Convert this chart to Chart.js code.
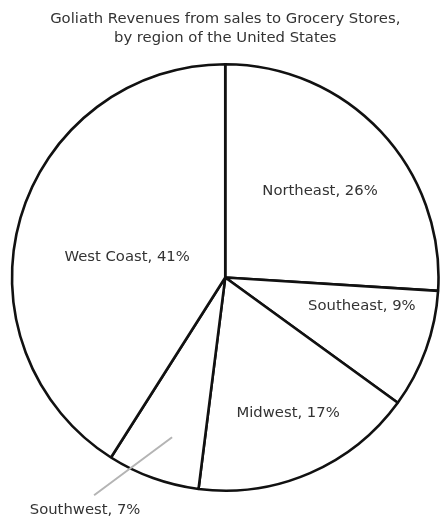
<!DOCTYPE html>
<html>
<head>
<meta charset="utf-8">
<script src="https://cdn.jsdelivr.net/npm/chart.js@4.4.1/dist/chart.umd.min.js"></script>
<style>
  html, body { margin: 0; padding: 0; background: #fff; }
  #wrap { width: 440px; height: 522px; }
</style>
</head>
<body>
<div id="wrap"><canvas id="pieChart" width="440" height="522"></canvas></div>
<script>
const regions = ['Northeast', 'Southeast', 'Midwest', 'Southwest', 'West Coast'];
const shares = [26, 9, 17, 7, 41];
const titleLines = ['Goliath Revenues from sales to Grocery Stores,', 'by region of the United States'];

// where each label sits: fraction of radius, angle tweak in degrees
const labelPlace = [
  { f: 0.60, da: 1 },
  { f: 0.655, da: -7.8 },
  { f: 0.70, da: -1.5 },
  { f: 0.79, da: -1.4, leader: true },
  { f: 0.47, da: -4.5 }
];

const fontFamily = '"DejaVu Sans", Verdana, sans-serif';

const sliceLabels = {
  id: 'sliceLabels',
  afterDatasetsDraw(chart) {
    const ctx = chart.ctx;
    const arcs = chart.getDatasetMeta(0).data;
    ctx.save();
    ctx.font = '14.8px ' + fontFamily;
    ctx.fillStyle = '#333';
    ctx.textAlign = 'center';
    ctx.textBaseline = 'middle';
    arcs.forEach(function(arc, i) {
      const p = labelPlace[i];
      const a = (arc.startAngle + arc.endAngle) / 2 + p.da * Math.PI / 180;
      const r = arc.outerRadius * p.f;
      const x = arc.x + Math.cos(a) * r;
      const y = arc.y + Math.sin(a) * r;
      const text = regions[i] + ', ' + shares[i] + '%';
      if (p.leader) {
        // gray leader line out to the label below the pie
        const ex = x - 78, ey = y + 58;
        ctx.strokeStyle = '#b4b4b4';
        ctx.lineWidth = 2;
        ctx.beginPath();
        ctx.moveTo(x, y);
        ctx.lineTo(ex, ey);
        ctx.stroke();
        ctx.fillText(text, ex - 9, ey + 15);
      } else {
        ctx.fillText(text, x, y);
      }
    });
    ctx.restore();
  }
};

new Chart(document.getElementById('pieChart'), {
  type: 'pie',
  data: {
    labels: regions,
    datasets: [{
      data: shares,
      backgroundColor: '#ffffff',
      borderColor: '#111111',
      borderWidth: 2.6
    }]
  },
  options: {
    responsive: false,
    animation: false,
    events: [],
    layout: { padding: { left: 10.5, right: 0, top: 0, bottom: 30 } },
    plugins: {
      legend: { display: false },
      tooltip: { enabled: false },
      title: {
        display: true,
        text: titleLines,
        color: '#333',
        font: { family: fontFamily, size: 14.8, weight: 'normal', lineHeight: 1.28 },
        padding: { top: 10, bottom: 15 }
      }
    }
  },
  plugins: [sliceLabels]
});
</script>
</body>
</html>
